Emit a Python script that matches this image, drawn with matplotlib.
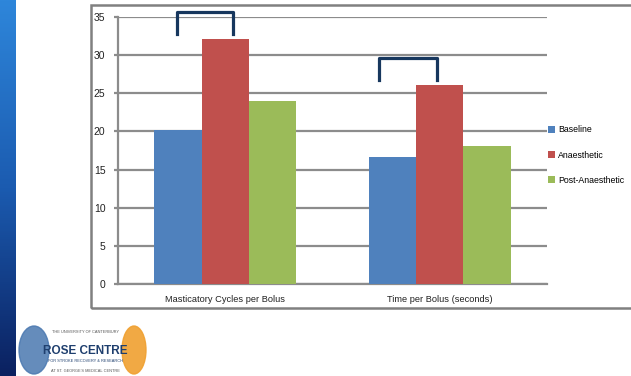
import matplotlib

matplotlib.use("Agg")
import matplotlib.pyplot as plt
import numpy as np
from matplotlib.patches import Rectangle, Ellipse

plt.rcParams["font.family"] = ["Liberation Sans", "DejaVu Sans"]

categories = ["Masticatory Cycles per Bolus", "Time per Bolus (seconds)"]
series = ["Baseline", "Anaesthetic", "Post-Anaesthetic"]
baseline = [20.2, 16.7]
anaesthetic = [32.1, 26.1]
post_anaesthetic = [24.0, 18.1]
yticks = [0, 5, 10, 15, 20, 25, 30, 35]
# significance brackets: (left, right, top, bottom) in data units
brackets = [(-0.225, 0.036, 35.6, 32.8), (0.717, 0.987, 29.6, 26.7)]

colors = ["#4F81BD", "#C0504D", "#9BBB59"]
grid_c = "#8c8c8c"

fig = plt.figure(figsize=(6.31, 3.76), dpi=100)

# slide stripe on the left
stripe = fig.add_axes([0, 0, 16 / 631, 1])
grad = np.linspace(0, 1, 200).reshape(-1, 1)
cmap = matplotlib.colors.LinearSegmentedColormap.from_list("s", ["#2E86DA", "#1B5BB0", "#0B2160"])
stripe.imshow(grad, aspect="auto", cmap=cmap)
stripe.axis("off")

# chart frame
fig.patches.append(Rectangle((91 / 631, 68 / 376), 0.9, 303 / 376, transform=fig.transFigure,
                             fill=False, ec="#808080", lw=1.8))

ax = fig.add_axes([118 / 631, 92 / 376, 429 / 631, 267 / 376])
x = np.arange(len(categories))
w = 0.22
for i, (vals, name) in enumerate(zip([baseline, anaesthetic, post_anaesthetic], series)):
    ax.bar(x + (i - 1) * w, vals, w, color=colors[i], label=name, zorder=3)

for x0, x1, top, bot in brackets:
    ax.plot([x0, x0, x1, x1], [bot, top, top, bot], color="#17375E", lw=2.3,
            solid_joinstyle="round", clip_on=False, zorder=4)

ax.set_xlim(-0.5, 1.5)
ax.set_ylim(0, 35)
ax.set_yticks(yticks)
ax.yaxis.grid(True, color=grid_c, lw=1.6, zorder=0)
ax.set_xticks(x)
ax.set_xticklabels(categories, fontsize=6.7, color="#222222")
ax.tick_params(axis="x", length=0, pad=8)
ax.tick_params(axis="y", labelsize=7.5, labelcolor="#222222", length=3, width=1.6,
               color=grid_c, pad=6)
for s in ["top", "right"]:
    ax.spines[s].set_visible(False)
for s in ["left", "bottom"]:
    ax.spines[s].set_color(grid_c)
    ax.spines[s].set_linewidth(1.6)

ax.legend(loc="center left", bbox_to_anchor=(0.99, 0.483), frameon=False, fontsize=6.3,
          handlelength=0.75, handleheight=0.75, handletextpad=0.4, labelspacing=1.85,
          borderaxespad=0.2)

# logo (simplified)
fig.patches.append(Ellipse((34 / 631, 26 / 376), 30 / 631, 48 / 376, transform=fig.transFigure,
                           color="#4A78B0", alpha=0.85))
fig.patches.append(Ellipse((134 / 631, 26 / 376), 24 / 631, 48 / 376, transform=fig.transFigure,
                           color="#F0A030", alpha=0.9))
fig.text(85 / 631, 43 / 376, "THE UNIVERSITY OF CANTERBURY", fontsize=2.8, ha="center", color="#555555")
fig.text(85 / 631, 22 / 376, "ROSE CENTRE", fontsize=8.5, ha="center", color="#1F3F6E", weight="bold")
fig.text(85 / 631, 14 / 376, "FOR STROKE RECOVERY & RESEARCH", fontsize=2.8, ha="center", color="#1F3F6E")
fig.text(85 / 631, 4 / 376, "AT ST. GEORGE'S MEDICAL CENTRE", fontsize=2.8, ha="center", color="#555555")

fig.savefig("out.png", dpi=100)
